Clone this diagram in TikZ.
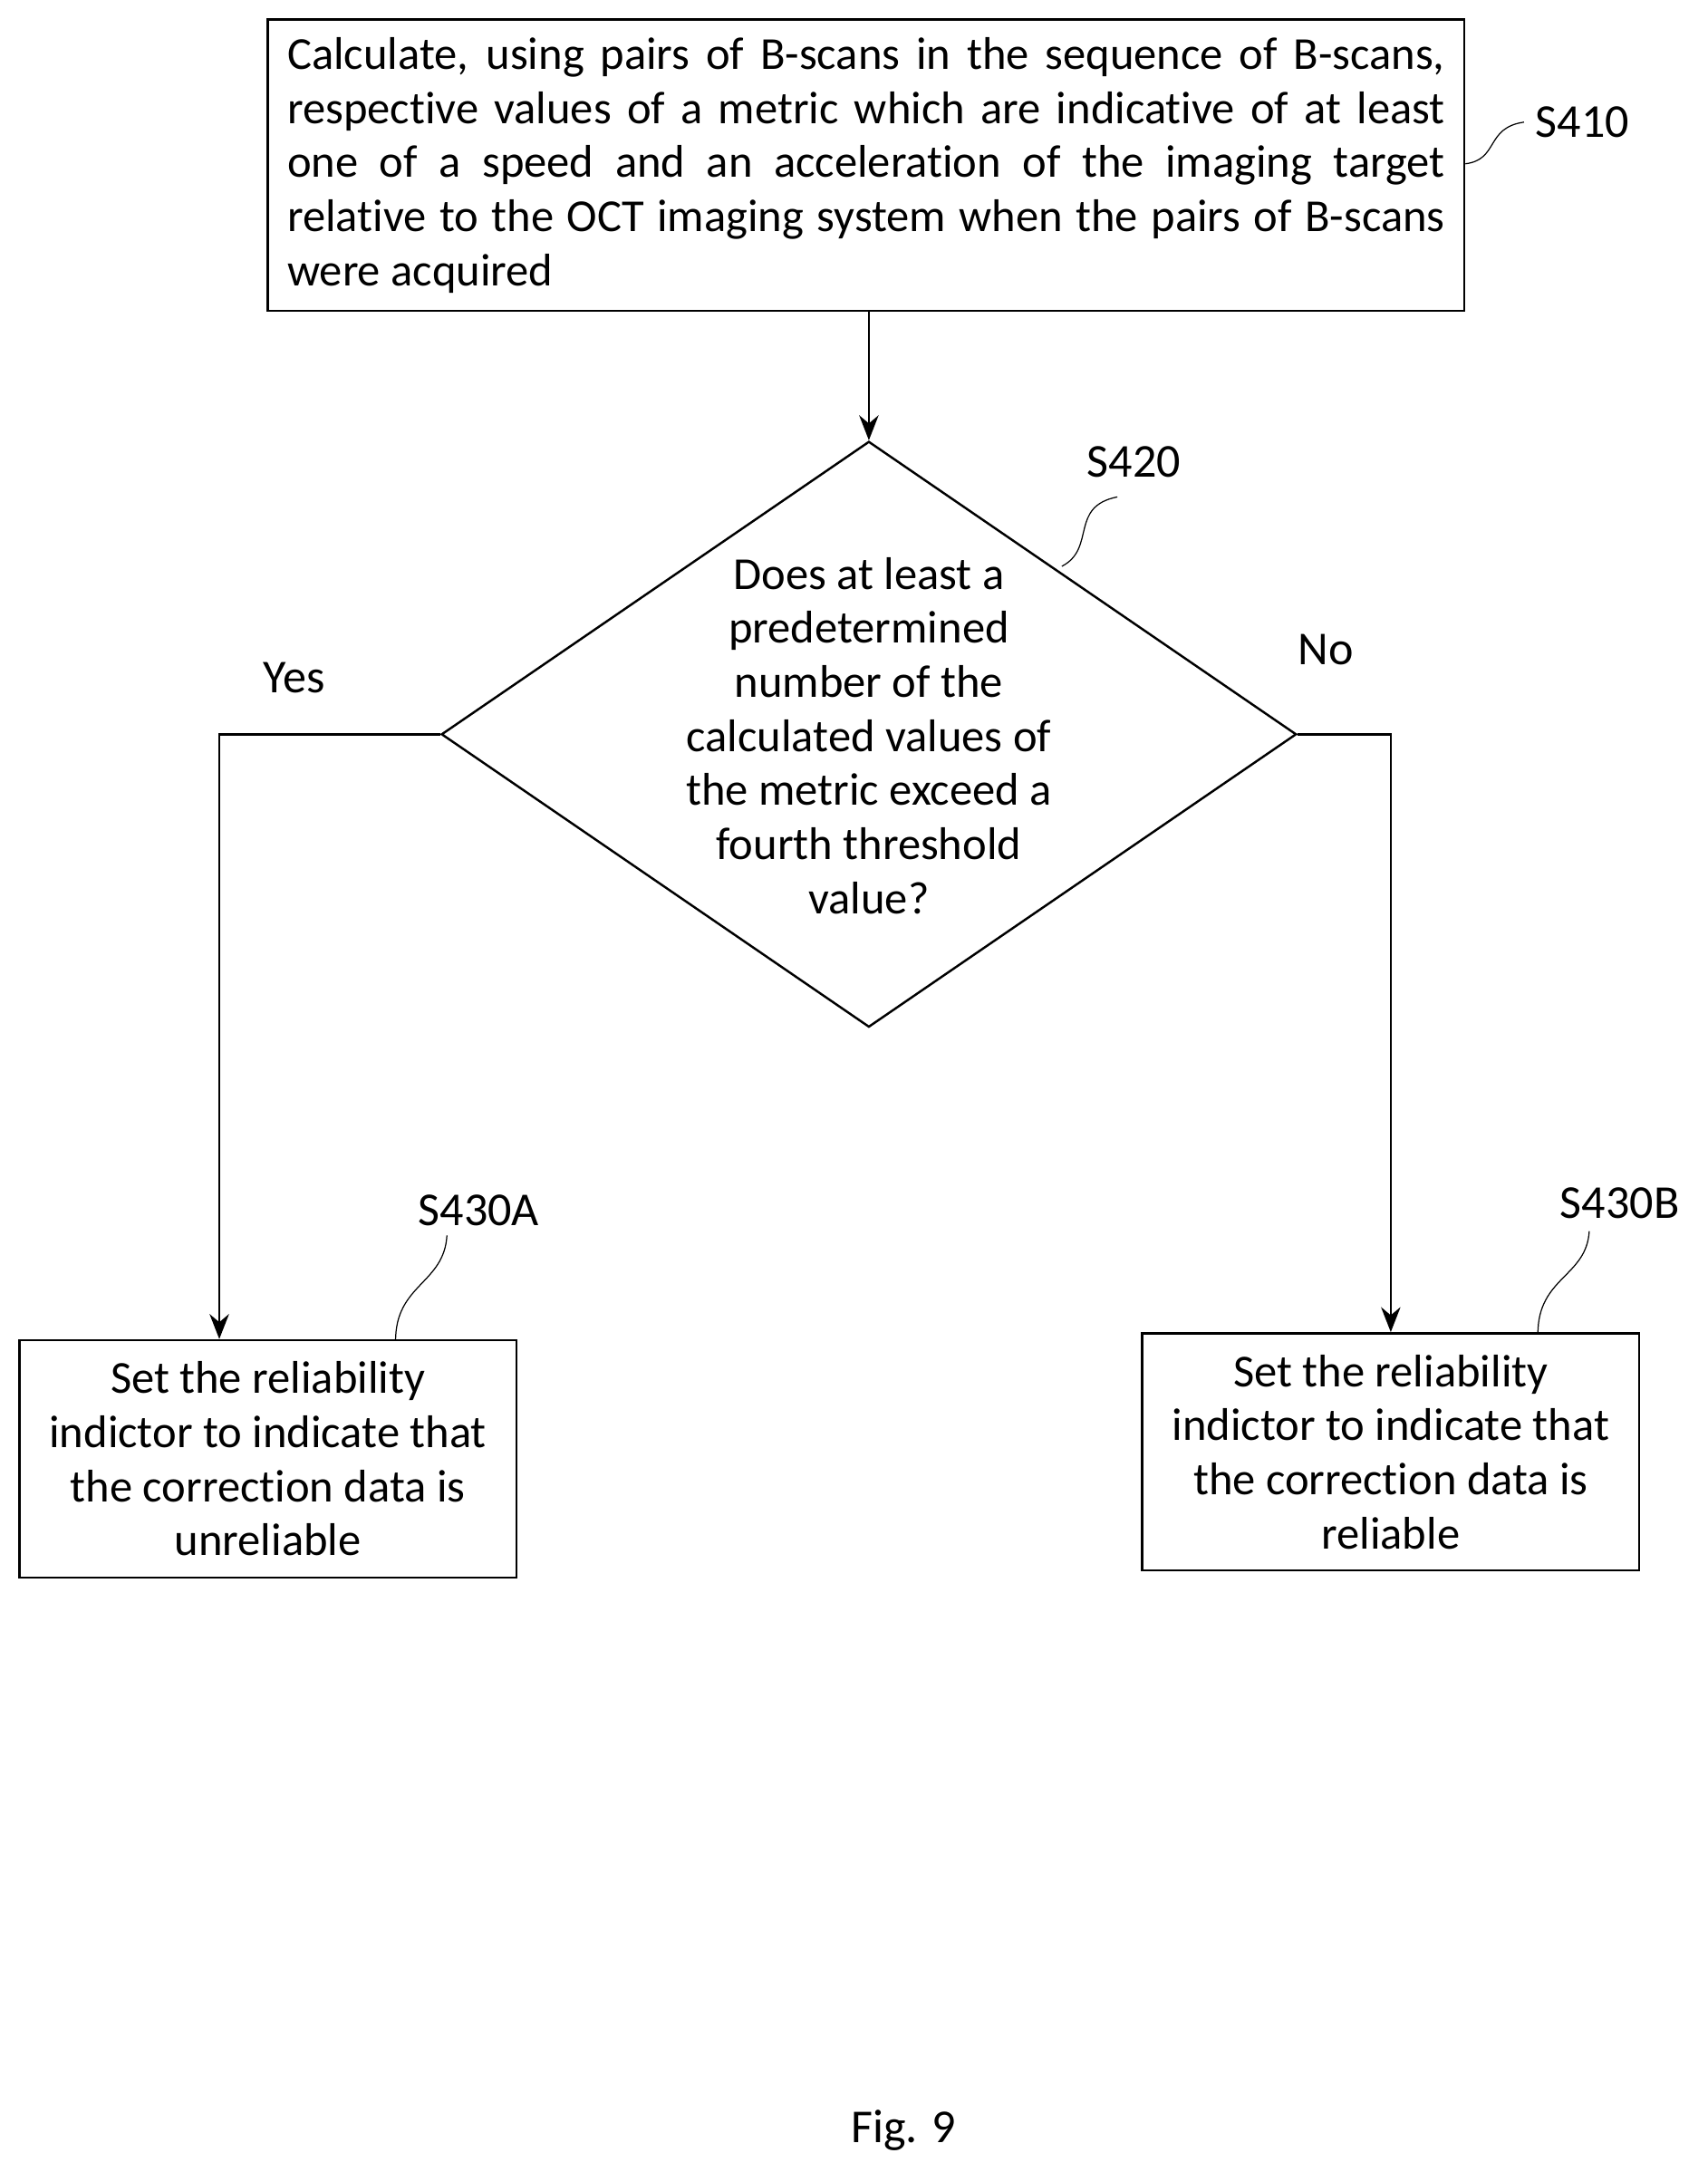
\documentclass[tikz,border=0pt]{standalone}
\usepackage{fontspec}
\setmainfont{Carlito}[Ligatures=NoCommon]
\usetikzlibrary{shapes.geometric, arrows.meta, positioning}
\begin{document}
\begin{tikzpicture}[
      x=0.5pt, y=-0.5pt,
      box/.style={draw, thick, inner sep=0pt},
      txt/.style={align=center, font=\fontsize{16.5}{19.5}\selectfont},
      lbl/.style={font=\fontsize{17}{20}\selectfont},
      arrow/.style={-{Stealth[length=9pt,width=7pt]}, thick},
      tail/.style={thin}
    ]
    \useasboundingbox (0,0) rectangle (1230,1572);

    % Boxes
    \node[box, minimum width=431pt, minimum height=105pt] (calc) at (624,119) {};
    \node[txt, text width=417pt, align=justify] at (calc.center) {Calculate, using pairs of B-scans in the sequence of B-scans,\linebreak respective values of a metric which are indicative of at least\linebreak one of a speed and an acceleration of the imaging target\linebreak relative to the OCT imaging system when the pairs of B-scans\linebreak were acquired};

    \node[draw, thick, diamond, minimum width=308pt, minimum height=211pt, inner sep=0pt] (check) at (626,529) {};
    \node[txt] at (626,530) {Does at least a\\predetermined\\number of the\\calculated values of\\the metric exceed a\\fourth threshold\\value?};

    \node[box, txt, minimum width=179pt, minimum height=85.5pt] (unrel) at (193,1051) {Set the reliability\\indictor to indicate that\\the correction data is\\unreliable};
    \node[box, txt, minimum width=179pt, minimum height=85.5pt] (rel) at (1002,1046) {Set the reliability\\indictor to indicate that\\the correction data is\\reliable};

    % Labels
    \node[lbl] (s410) at (1140,88) {S410};
    \node[lbl] (s420) at (817,333) {S420};
    \node[lbl] (s430a) at (345,872) {S430A};
    \node[lbl] (s430b) at (1167,867) {S430B};
    \node[lbl] (yes) at (212,488) {Yes};
    \node[lbl] (no) at (955,468) {No};
    \node[lbl] (fig) at (651,1535) {Fig. 9};

    % Connectors
    \draw[arrow] (calc.south -| check.north) -- (check.north);
    \draw[arrow] (check.west) -| ([xshift=-17.5pt]unrel.north);
    \draw[arrow] (check.east) -| (rel.north);

    % Lead lines
    \draw[tail] (calc.east |- 0,118) .. controls (1080,115) and (1070,92) .. (1098,88);
    \draw[tail] (765,408) .. controls (790,395) and (770,365) .. (805,358);
    \draw[tail] (285,966) .. controls (285,925) and (320,925) .. (322,890);
    \draw[tail] (1108,961) .. controls (1108,920) and (1143,920) .. (1145,887);

  \end{tikzpicture}
\end{document}
